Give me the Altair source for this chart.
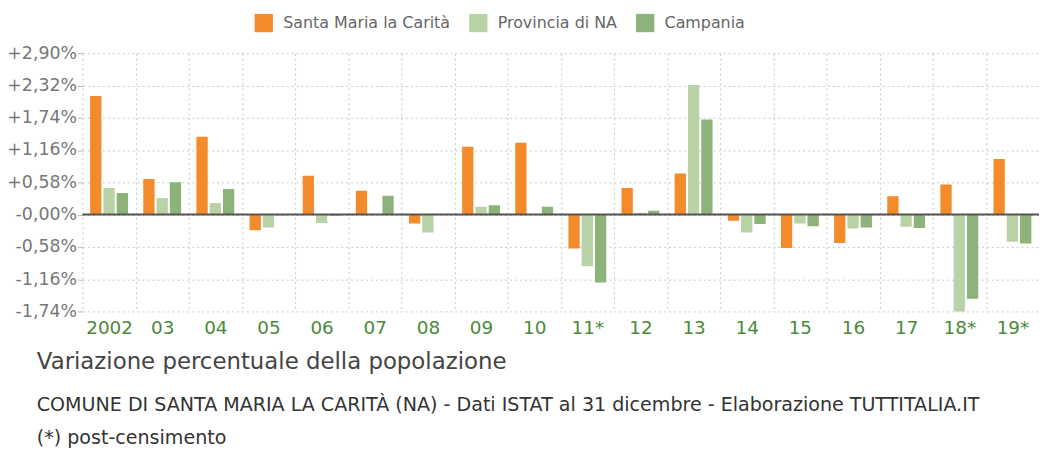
import altair as alt
import pandas as pd

years = ["2002", "03", "04", "05", "06", "07", "08", "09", "10", "11*",
         "12", "13", "14", "15", "16", "17", "18*", "19*"]
series = ["Santa Maria la Carità", "Provincia di NA", "Campania"]
santa_maria = [2.13, 0.64, 1.40, -0.28, 0.70, 0.43, -0.16, 1.22, 1.29, -0.61,
               0.48, 0.74, -0.11, -0.60, -0.51, 0.33, 0.54, 1.00]
provincia = [0.48, 0.30, 0.21, -0.23, -0.15, 0.01, -0.32, 0.14, 0.01, -0.93,
             0.03, 2.33, -0.32, -0.16, -0.25, -0.22, -1.78, -0.49]
campania = [0.39, 0.58, 0.46, -0.01, -0.02, 0.34, 0.0, 0.17, 0.14, -1.22,
            0.07, 1.71, -0.17, -0.21, -0.23, -0.24, -1.51, -0.52]
colors = ["#f38b2d", "#b9d3a6", "#8db37a"]
y_ticks = [-1.74, -1.16, -0.58, 0.0, 0.58, 1.16, 1.74, 2.32, 2.90]

rows = []
for vals, s in zip([santa_maria, provincia, campania], series):
    for y, v in zip(years, vals):
        rows.append({"anno": y, "serie": s, "valore": v})
df = pd.DataFrame(rows)

font = "DejaVu Sans"

bars = alt.Chart(df).mark_bar(clip=True).encode(
    x=alt.X("anno:N", sort=years, title=None,
            scale=alt.Scale(paddingInner=0, paddingOuter=0),
            axis=alt.Axis(labelColor="#4a8a3a", labelFontSize=18.5, labelAngle=0,
                          labelPadding=7, ticks=False, domain=False,
                          grid=True, tickBand="extent", gridDash=[2, 3],
                          gridColor="#c8c8c8", labelFont=font)),
    xOffset=alt.XOffset("serie:N", sort=series,
                        scale=alt.Scale(paddingInner=0.15, paddingOuter=0.575)),
    y=alt.Y("valore:Q", title=None,
            scale=alt.Scale(domain=[-1.74, 2.90], nice=False, zero=False),
            axis=alt.Axis(values=y_ticks, tickCount=len(y_ticks), grid=True,
                          gridDash=[2, 3],
                          gridColor="#c8c8c8", domain=False, tickSize=5,
                          tickColor="#bbbbbb", labelColor="#777777",
                          labelFontSize=17.5, labelFont=font, labelPadding=1,
                          labelOverlap=False,
                          labelExpr="(datum.value > 0.001 ? '+' : '-') + replace(format(abs(datum.value), '.2f'), '.', ',') + '%'")),
    color=alt.Color("serie:N", sort=series,
                    scale=alt.Scale(domain=series, range=colors),
                    legend=alt.Legend(title=None, orient="none", direction="horizontal",
                                      legendX=173, legendY=-40, symbolType="square",
                                      symbolSize=340, symbolStrokeWidth=0,
                                      labelFontSize=16, labelColor="#666666",
                                      labelFont=font, columnPadding=18,
                                      labelOffset=10, labelLimit=400)),
)

zero = alt.Chart(pd.DataFrame({"v": [0.0]})).mark_rule(
    color="#555555", strokeWidth=2).encode(y="v:Q")

chart = alt.layer(bars, zero).properties(
    width=963, height=260,
    autosize=alt.AutoSizeParams(type="none"),
    padding={"left": 75, "top": 44, "right": 0, "bottom": 138},
    title=alt.Title(
        "Variazione percentuale della popolazione",
        subtitle=["COMUNE DI SANTA MARIA LA CARITÀ (NA) - Dati ISTAT al 31 dicembre - Elaborazione TUTTITALIA.IT",
                  "(*) post-censimento"],
        orient="bottom", anchor="start", frame="group", dx=-46, offset=14,
        fontSize=23, font=font, fontWeight="normal", color="#444444",
        subtitleFontSize=19.2, subtitleFont=font, subtitleColor="#333333",
        subtitleLineHeight=33, subtitlePadding=23),
).configure_view(stroke=None)

chart.save("out.html", embed_options={"renderer": "svg", "actions": False})
